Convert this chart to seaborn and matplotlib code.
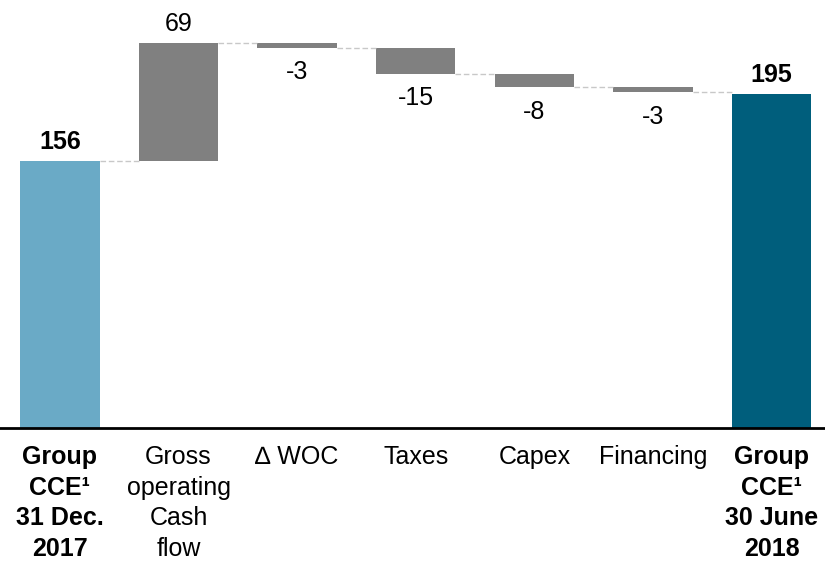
import pandas as pd
import numpy as np
import matplotlib
matplotlib.use("Agg")
import matplotlib.pyplot as plt
import seaborn as sns

# waterfall data (EUR m)
steps = ["Group\nCCE¹\n31 Dec.\n2017", "Gross\noperating\nCash\nflow", "∆ WOC",
         "Taxes", "Capex", "Financing", "Group\nCCE¹\n30 June\n2018"]
values = [156, 69, -3, -15, -8, -3, 195]
is_total = [True, False, False, False, False, False, True]
bar_colors = ["#6aaac6", "#808080", "#808080", "#808080", "#808080", "#808080", "#005e7c"]

# bottoms / heights for the floating bars
bottoms = []
heights = []
levels = []
running = 0
for v, tot in zip(values, is_total):
    if tot:
        bottoms.append(0)
        heights.append(v)
        running = v
    else:
        bottoms.append(running + min(v, 0))
        heights.append(abs(v))
        running = running + v
    levels.append(running)

df = pd.DataFrame({"step": steps, "height": heights, "bottom": bottoms})

sns.set_style("white")
plt.rcParams["font.family"] = ["Liberation Sans", "DejaVu Sans"]
plt.rcParams["text.color"] = "black"
plt.rcParams["xtick.color"] = "black"

fig = plt.figure(figsize=(8.25, 5.64), dpi=100)
ax = fig.add_axes([0, 0.241, 1, 0.759])

sns.barplot(data=df, x="step", y="height", bottom=df["bottom"].values,
            width=0.67, color="#808080", ax=ax, linewidth=0)
for patch, c in zip(ax.patches, bar_colors):
    patch.set_facecolor(c)
    patch.set_edgecolor("none")

# dashed connectors between bars
w = 0.67
for i in range(len(values) - 1):
    ax.plot([i + w / 2, i + 1 - w / 2], [levels[i], levels[i]],
            color="#c8c8c8", linestyle="--", linewidth=1, dashes=(4, 2))

# value labels
for i, (v, tot) in enumerate(zip(values, is_total)):
    top = bottoms[i] + heights[i]
    if v >= 0:
        ax.annotate(str(v), (i, top), xytext=(0, 5), textcoords="offset points",
                    ha="center", va="bottom", fontsize=18, color="black",
                    fontweight="bold" if tot else "normal")
    else:
        ax.annotate(str(v), (i, bottoms[i]), xytext=(0, -9), textcoords="offset points",
                    ha="center", va="top", fontsize=18, color="black")

ax.set_xlim(-0.505, 6.45)
ax.set_ylim(0, 250)
ax.set_xlabel("")
ax.set_ylabel("")
ax.set_yticks([])
ax.tick_params(axis="x", length=0, pad=12, labelsize=18, labelcolor="black")
for lbl, tot in zip(ax.get_xticklabels(), is_total):
    lbl.set_linespacing(1.36)
    lbl.set_multialignment("center")
    if tot:
        lbl.set_fontweight("bold")

for s in ["top", "left", "right"]:
    ax.spines[s].set_visible(False)
ax.spines["bottom"].set_color("black")
ax.spines["bottom"].set_linewidth(2)

fig.savefig("out.png", dpi=100)
